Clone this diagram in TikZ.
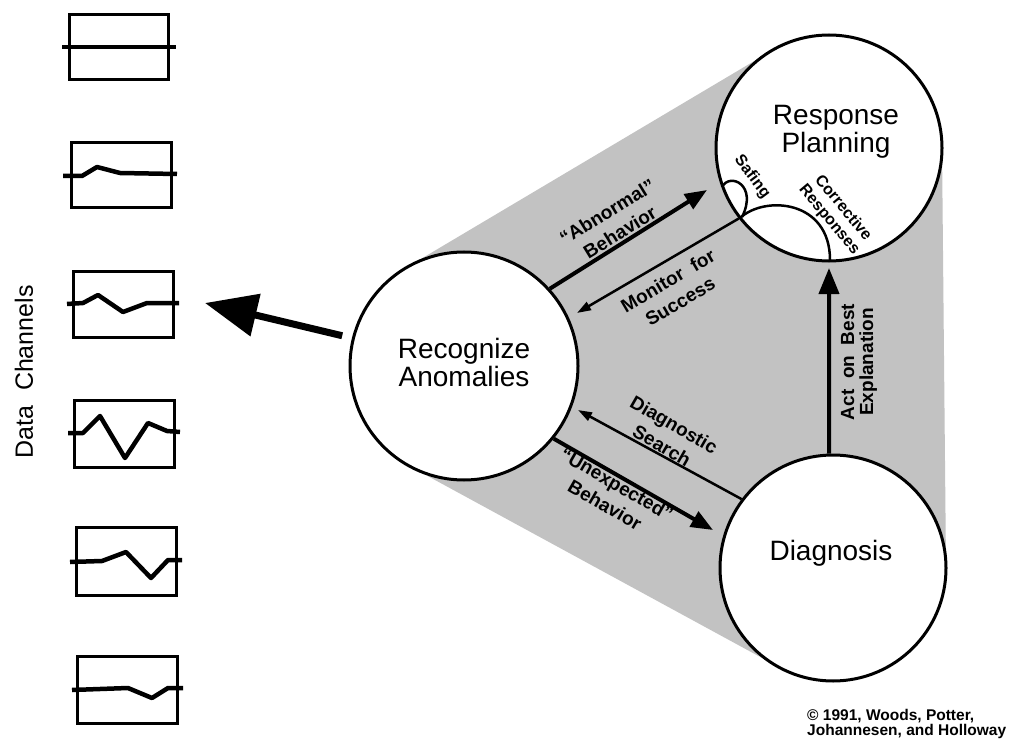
\documentclass[tikz,border=0pt]{standalone}
\usepackage{fontspec}
\setmainfont{Liberation Sans}
\usetikzlibrary{arrows.meta}
\begin{document}
\begin{tikzpicture}[x=1pt,y=-1pt,
  bigcircle/.style={circle, draw, line width=3pt, fill=white, minimum size=#1, inner sep=0pt},
  thickarrow/.style={line width=4pt, -{Triangle[length=22pt,width=17pt]}},
  thinarrow/.style={line width=2.5pt, -{Triangle[length=14pt,width=9pt]}},
  arrowlabel/.style={font=\bfseries\fontsize{19}{24}\selectfont, align=center, inner sep=0pt},
  smalllabel/.style={font=\bfseries\fontsize{16}{18}\selectfont, align=center, inner sep=0pt},
  mainlabel/.style={font=\fontsize{28}{28}\selectfont, align=center, inner sep=0pt},
  chbox/.style={draw, line width=3pt},
  wave/.style={line width=4.5pt, line join=round},
  innerarc/.style={line width=2.5pt},
  shade/.style={fill=black!24, draw=none}]
\useasboundingbox (0,0) rectangle (1009,746);

% shaded hull
\coordinate (t1) at (405.5,268.1);
\coordinate (t2) at (771.1,51.0);
\coordinate (t3) at (942,146.9);
\coordinate (t4) at (946,566.9);
\coordinate (t5) at (778.8,667.1);
\coordinate (t6) at (409.3,466);
\fill[shade] (t1) -- (t2) -- (t3) -- (t4) -- (t5) -- (t6) -- cycle;

% circles
\node[bigcircle=228pt] (A) at (464,366) {};
\node[bigcircle=226pt] (B) at (829,148) {};
\node[bigcircle=226pt] (C) at (833,568) {};

\node[mainlabel] (Atext) at (464,362) {Recognize\\Anomalies};
\node[mainlabel] (Btext) at (836,132) {Response\\Planning};
\node[mainlabel] (Ctext) at (831,553) {Diagnosis};

% inner arcs of Response Planning
\draw[innerarc] (722,187) .. controls (730,172) and (758,185) .. (742,217);
\draw[innerarc] (740,218) .. controls (765,195) and (830,200) .. (830,260);
\node[smalllabel, rotate=-53] (safing) at (752,177) {Safing};
\node[smalllabel, rotate=-50] (corr) at (836,214) {Corrective\\Responses};

% arrow end points
\coordinate (abTip) at (707,190);
\coordinate (monTip) at (577,313);
\coordinate (diagTip) at (578,410);
\coordinate (unTip) at (713,530);
\coordinate (actTip) at (829,268);
\coordinate (dataTip) at (205,303);

\draw[thickarrow] (A.42.6) -- (abTip);
\draw[thinarrow] (B.218.2) -- (monTip);
\draw[thinarrow] (C.143.9) -- (diagTip);
\draw[thickarrow] (A.-39.7) -- (unTip);
\draw[line width=4pt, -{Triangle[length=26pt,width=20pt]}] (C.92) -- (actTip);
\draw[line width=7pt, -{Triangle[length=52pt,width=42pt]}, shorten <=10pt] (A.166) -- (dataTip);

% arrow labels
\node[arrowlabel, rotate=31.5] (abl) at (613.5,222) {“Abnormal”\\Behavior};
\node[arrowlabel, rotate=30.5] (monl) at (674,291) {Monitor\ \ for\\Success};
\node[arrowlabel, rotate=-30] (diagl) at (668,435) {Diagnostic\\Search};
\node[arrowlabel, rotate=-30] (unl) at (611,494.5) {“Unexpected”\\Behavior};
\node[arrowlabel, rotate=90, font=\bfseries\fontsize{19}{19}\selectfont] (actl) at (859,362) {Act\ \ on\ \ Best\\Explanation};

% data channels
\node[font=\fontsize{25}{25}\selectfont, rotate=90, inner sep=0pt] (dc) at (24,372) {Data\hspace{8pt} Channels};

\draw[chbox] (69,15) rectangle (168,80);
\draw[wave] (62,47) -- (176,47);

\draw[chbox] (71,143) rectangle (171,208);
\draw[wave] (63,176) -- (82,176) -- (97,167) -- (120,173) -- (177,174);

\draw[chbox] (73,271) rectangle (173,337);
\draw[wave] (67,304) -- (83,303) -- (98,295) -- (123,312) -- (147,303) -- (179,303);

\draw[chbox] (74,400) rectangle (174,467);
\draw[wave] (68,433) -- (83,433) -- (100,416) -- (125,458) -- (148,423) -- (167,431) -- (180,432);

\draw[chbox] (76,527) rectangle (176,595);
\draw[wave] (70,562) -- (102,561) -- (126,552) -- (151,578) -- (168,560) -- (182,560);

\draw[chbox] (77,656) rectangle (177,723);
\draw[wave] (72,690) -- (128,688) -- (152,698) -- (168,688) -- (183,688);

% copyright
\node[anchor=north west, align=left, inner sep=0pt, font=\bfseries\fontsize{15.5}{15.5}\selectfont] (copy) at (807,709) {© 1991, Woods, Potter,\\Johannesen, and Holloway};
\end{tikzpicture}
\end{document}
